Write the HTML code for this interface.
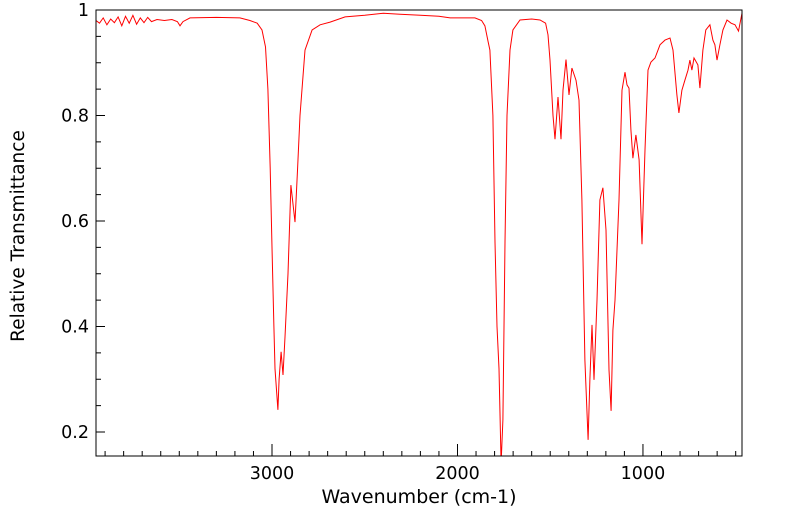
<!DOCTYPE html>
<html><head><meta charset="utf-8"><style>
body{margin:0;background:#fff;width:799px;height:516px;overflow:hidden}
svg{font-family:"DejaVu Sans","Liberation Sans",sans-serif}
</style></head><body>
<svg id="chart" width="799" height="516" xmlns="http://www.w3.org/2000/svg">
<defs><clipPath id="pc"><rect x="96" y="10" width="646" height="446"/></clipPath></defs>
<g id="ticks"></g>
<g id="labels" font-size="17.5" fill="#000"></g>
<path id="line" fill="none" stroke="#ff0000" stroke-width="1" clip-path="url(#pc)"/>
<rect x="96" y="10" width="646" height="446" fill="none" stroke="#000" stroke-width="1"/>
<text x="419" y="503" font-size="19" text-anchor="middle">Wavenumber (cm-1)</text>
<text transform="translate(24,236) rotate(-90)" font-size="18.5" text-anchor="middle">Relative Transmittance</text>
</svg>
<script>
const wavenumbers=[3949,3930,3910,3890,3870,3850,3830,3810,3790,3770,3750,3730,3710,3690,3670,3650,3620,3580,3540,3510,3496,3480,3442,3300,3173,3119,3080,3054,3035,3022,3010,3000,2990,2984,2968,2962,2951,2941,2930,2914,2898,2876,2862,2849,2822,2784,2741,2687,2606,2500,2400,2310,2200,2100,2040,1906,1870,1852,1835,1825,1809,1798,1787,1776,1765,1755,1744,1733,1717,1701,1663,1600,1555,1525,1512,1501,1485,1474,1458,1442,1431,1415,1399,1383,1361,1345,1329,1313,1296,1286,1275,1264,1248,1232,1216,1199,1183,1172,1162,1151,1129,1113,1097,1086,1075,1065,1054,1038,1021,1005,989,973,957,935,908,881,854,838,817,806,790,774,757,747,736,725,704,693,677,661,639,623,612,601,585,569,547,525,504,485,466];
const transmittance=[0.98,0.975,0.985,0.972,0.983,0.976,0.987,0.97,0.988,0.975,0.99,0.973,0.985,0.976,0.986,0.978,0.982,0.98,0.982,0.978,0.970,0.978,0.985,0.986,0.985,0.98,0.975,0.962,0.93,0.85,0.70,0.55,0.40,0.32,0.242,0.30,0.352,0.308,0.38,0.50,0.668,0.598,0.70,0.80,0.924,0.962,0.972,0.977,0.987,0.99,0.994,0.992,0.99,0.988,0.985,0.985,0.98,0.970,0.94,0.924,0.80,0.56,0.40,0.32,0.14,0.223,0.56,0.80,0.924,0.962,0.981,0.983,0.981,0.975,0.953,0.905,0.80,0.755,0.835,0.755,0.848,0.906,0.839,0.89,0.867,0.829,0.64,0.336,0.185,0.30,0.403,0.299,0.45,0.64,0.663,0.583,0.318,0.240,0.393,0.45,0.64,0.848,0.882,0.858,0.852,0.773,0.719,0.763,0.716,0.556,0.735,0.886,0.901,0.909,0.934,0.943,0.947,0.924,0.839,0.805,0.848,0.867,0.886,0.905,0.886,0.909,0.896,0.852,0.924,0.962,0.972,0.943,0.934,0.905,0.934,0.962,0.981,0.975,0.972,0.96,0.994];
const xTickLabels=[3000,2000,1000];
const yTickLabels=[0.2,0.4,0.6,0.8,1];
const X0=96,X1=742,Y0=10,Y1=456,WMAX=3949,WMIN=466,TMAX=1.0,TMIN=0.1545;
const xs=w=>X0+(WMAX-w)/(WMAX-WMIN)*(X1-X0);
const ys=t=>Y0+(TMAX-t)/(TMAX-TMIN)*(Y1-Y0);
const NS="http://www.w3.org/2000/svg";
let d="";
wavenumbers.forEach((w,i)=>{d+=(i?"L":"M")+xs(w).toFixed(1)+","+ys(transmittance[i]).toFixed(1);});
document.getElementById("line").setAttribute("d",d);
const tg=document.getElementById("ticks"),lg=document.getElementById("labels");
function ln(x1,y1,x2,y2){const l=document.createElementNS(NS,"line");l.setAttribute("x1",x1);l.setAttribute("y1",y1);l.setAttribute("x2",x2);l.setAttribute("y2",y2);l.setAttribute("stroke","#000");


tg.appendChild(l);}
for(let w=3900;w>=500;w-=100){const x=xs(w);ln(x,Y1,x,Y1-(w%1000===0?12:5));}
for(let t=0.2;t<=1.0001;t+=0.05){const y=ys(t);const major=Math.abs(t*10-Math.round(t*10))<1e-6&&Math.round(t*10)%2===0;ln(X0,y,X0+(major?9:5),y);}
xTickLabels.forEach(v=>{const t=document.createElementNS(NS,"text");t.setAttribute("x",xs(v));t.setAttribute("y",479);t.setAttribute("text-anchor","middle");t.textContent=v;


lg.appendChild(t);});
yTickLabels.forEach(v=>{const t=document.createElementNS(NS,"text");t.setAttribute("x",89);t.setAttribute("y",ys(v)+6);t.setAttribute("text-anchor","end");t.textContent=v;


lg.appendChild(t);});
</script>
</body></html>
